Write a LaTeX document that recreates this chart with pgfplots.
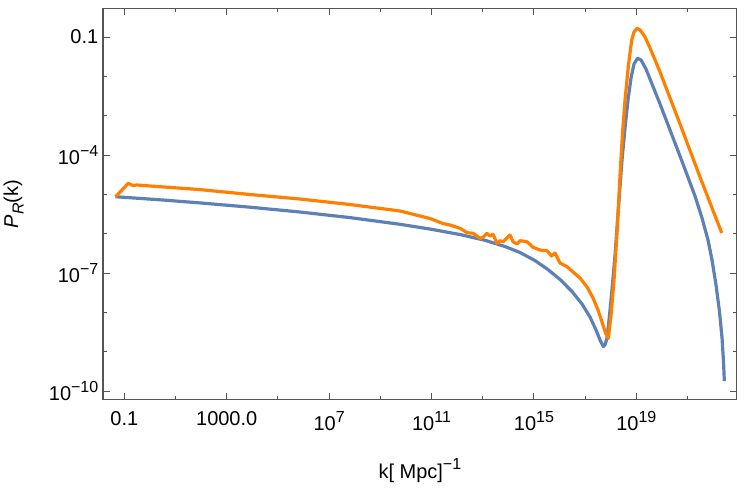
\documentclass[border=0pt]{standalone}
\usepackage{fontspec}
\setmainfont{Liberation Sans}
\usepackage{pgfplots}
\pgfplotsset{compat=1.18}

\definecolor{mblue}{RGB}{94,129,181}
\definecolor{morange}{RGB}{255,128,0}
\definecolor{framegray}{RGB}{85,85,85}
\newcommand\sxp[1]{\raisebox{0.42em}{\fontsize{12}{12}\selectfont #1}}
\newcommand\sbs[1]{\raisebox{-0.28em}{\fontsize{12}{12}\selectfont #1}}

\begin{document}
\begin{tikzpicture}
  \begin{axis}[scale only axis, width=475.3pt, height=293.6pt,
    xmode=log, ymode=log, log basis x=10, log basis y=10,
    xmin=1.47e-2, xmax=8.36e22, ymin=6.0e-11, ymax=0.537,
    axis line style={framegray, line width=0.8pt},
    every tick/.style={framegray, line width=0.7pt},
    major tick length=5pt, minor tick length=3pt,
    xtick={1e-1,1e3,1e7,1e11,1e15,1e19},
    xticklabels={0.1, 1000.0, 10\sxp{7}, 10\sxp{11}, 10\sxp{15}, 10\sxp{19}},
    minor xtick={1e1,1e5,1e9,1e13,1e17,1e21},
    ytick={1e-10,1e-7,1e-4,1e-1},
    yticklabels={10\sxp{−10}, 10\sxp{−7}, 10\sxp{−4}, 0.1},
    minor ytick={1e-9,1e-8,1e-6,1e-5,1e-3,1e-2},
    tick label style={font=\fontsize{15}{17}\selectfont, black},
    xticklabel style={yshift=-5pt},
    label style={font=\fontsize{15}{17}\selectfont, black},
    xlabel={k[ Mpc]\sxp{−1}},
    xlabel style={yshift=-14pt},
    ylabel={\textit{P}\sbs{\textit{R}}(k)},
    ylabel style={yshift=12pt},
    every axis plot/.append style={line width=2.4pt, line join=round},
  ]
    % blue curve
    \addplot[mblue] coordinates {
      (4.53e-2,8.69e-6) (2.48,7.26e-6) (90.6,6.05e-6) (8.13e3,4.71e-6)
      (7.30e5,3.55e-6) (6.55e7,2.56e-6) (5.89e9,1.73e-6) (8.73e10,1.31e-6)
      (1.30e12,9.51e-7) (1.23e13,6.78e-7) (7.43e13,4.71e-7) (2.86e14,3.32e-7)
      (1.10e15,2.07e-7) (3.56e15,1.22e-7) (1.05e16,6.82e-8) (3.08e16,3.38e-8)
      (7.57e16,1.63e-8) (1.55e17,7.60e-9) (2.67e17,3.55e-9) (3.82e17,1.98e-9)
      (5.14e17,1.35e-9) (5.98e17,1.48e-9) (7.16e17,2.22e-9) (8.59e17,6.37e-9)
      (1.12e18,3.69e-8) (1.47e18,2.86e-7) (2.11e18,7.18e-6) (2.76e18,7.46e-5)
      (3.62e18,4.85e-4) (4.74e18,2.50e-3) (6.21e18,9.08e-3) (8.13e18,2.06e-2)
      (1.11e19,2.87e-2) (1.53e19,2.60e-2) (2.39e19,1.53e-2) (4.10e19,6.38e-3)
      (8.43e19,1.98e-3) (2.07e20,4.32e-4) (6.67e20,5.90e-5) (1.96e21,9.06e-6)
      (3.68e21,2.50e-6) (6.32e21,6.90e-7) (9.06e21,2.14e-7) (1.30e22,4.94e-8)
      (1.78e22,1.02e-8) (2.23e22,2.22e-9) (2.55e22,5.46e-10) (2.74e22,1.79e-10)
    };
    % orange curve
    \addplot[morange] coordinates {
      (4.53e-2,8.69e-6) (7.43e-2,1.21e-5) (0.143,1.91e-5) (0.225,1.66e-5)
      (0.305,1.73e-5) (1.01,1.63e-5) (90.6,1.32e-5) (8.13e3,9.89e-6)
      (7.30e5,7.60e-6) (6.55e7,5.51e-6) (5.89e9,3.77e-6) (8.73e10,2.43e-6)
      (2.81e11,1.81e-6) (5.28e11,1.66e-6) (1.30e12,1.37e-6)
      (2.44e12,1.06e-6) (4.18e12,1.02e-6) (5.98e12,8.71e-7) (7.85e12,7.62e-7)
      (1.03e13,8.07e-7) (1.47e13,1.02e-6) (1.93e13,8.71e-7) (2.52e13,9.62e-7)
      (3.62e13,5.69e-7) (4.74e13,6.62e-7) (6.21e13,6.24e-7) (1.16e14,9.25e-7)
      (1.53e14,6.24e-7) (2.19e14,5.46e-7) (2.86e14,6.62e-7) (5.37e14,6.24e-7)
      (9.23e14,4.50e-7) (1.73e15,3.84e-7) (3.25e15,3.68e-7) (4.88e15,2.70e-7)
      (6.67e15,3.22e-7) (1.05e16,1.79e-7) (1.96e16,1.45e-7) (3.37e16,1.06e-7)
      (6.32e16,7.45e-8) (1.19e17,4.40e-8) (2.04e17,2.31e-8) (3.19e17,1.15e-8)
      (4.57e17,5.68e-9) (6.27e17,2.98e-9) (8.05e17,2.18e-9) (1.03e18,8.55e-9)
      (1.35e18,6.64e-8) (1.76e18,1.04e-6) (2.31e18,3.10e-5) (2.89e18,3.62e-4)
      (3.62e18,2.50e-3) (4.88e18,1.83e-2) (6.61e18,8.39e-2) (8.13e18,0.134)
      (1.06e19,0.166) (1.40e19,0.151) (2.19e19,0.100) (3.43e19,5.25e-2)
      (8.43e19,1.29e-2) (5.09e20,6.14e-4) (3.08e21,2.75e-5) (2.17e22,1.04e-6)
    };
  \end{axis}
  \pgfresetboundingbox
  \path[use as bounding box] (-77.25pt,-66.2pt) rectangle (483pt,299.8pt);
\end{tikzpicture}
\end{document}
